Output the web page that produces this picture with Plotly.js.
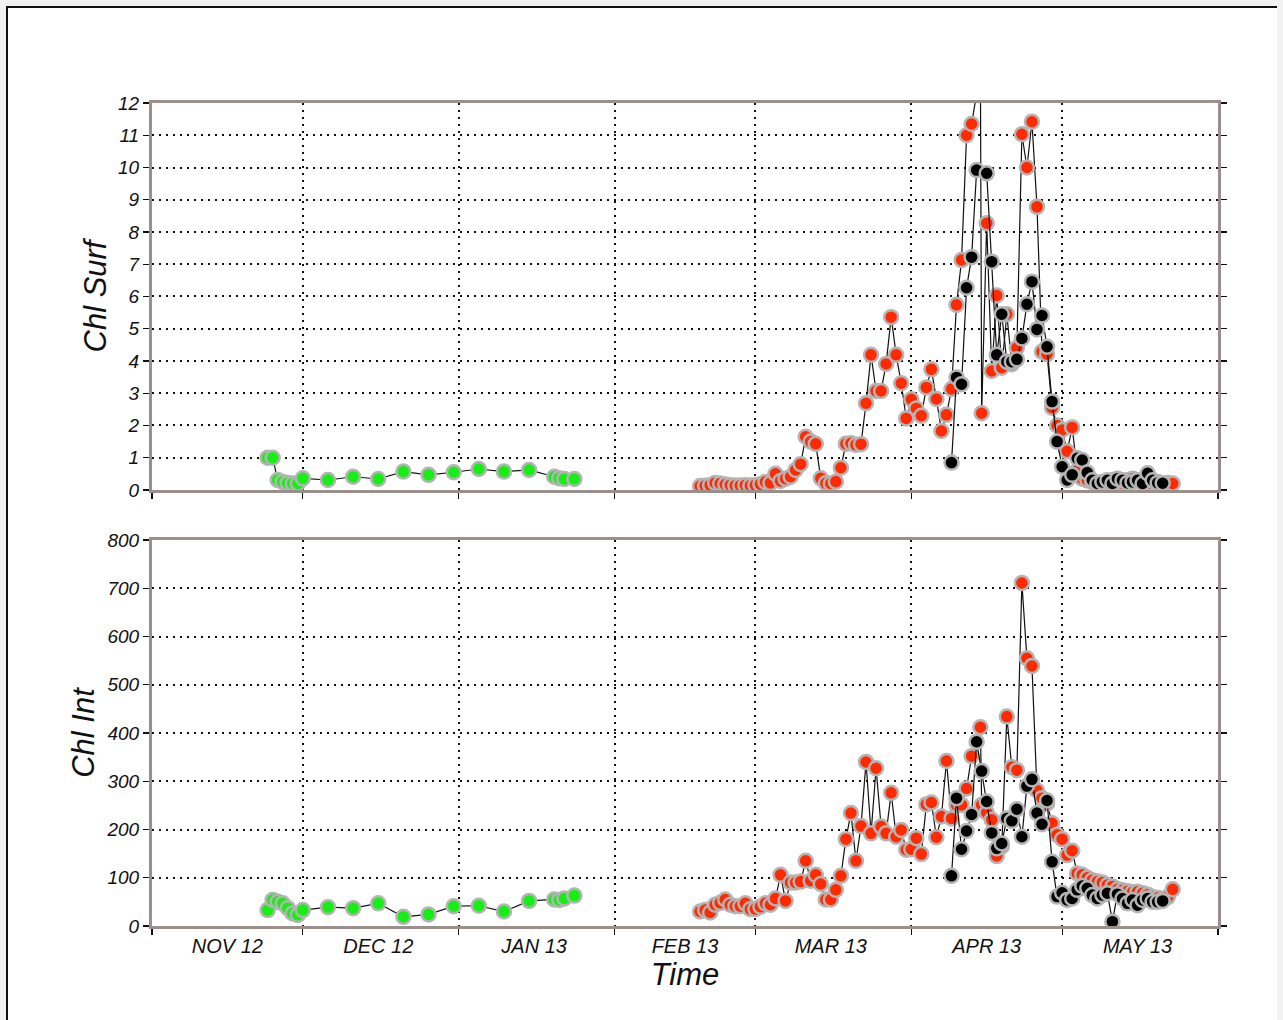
<!DOCTYPE html>
<html>
<head>
<meta charset="utf-8">
<script src="https://cdn.plot.ly/plotly-3.0.1.min.js"></script>
<style>
  html, body { margin: 0; padding: 0; background: #f2f2f2; }
  #wrap { position: absolute; left: 0; top: 0; width: 1283px; height: 1020px; overflow: hidden; }
  #frame { position: absolute; left: 6px; top: 6px; width: 1271px; height: 1014px; background: #fff; border-left: 2px solid #111; border-top: 2px solid #111; box-sizing: border-box; }
  #chart { position: absolute; left: 0; top: 0; width: 1283px; height: 1020px; }
</style>
</head>
<body>
<div id="wrap">
  <div id="frame"></div>
  <div id="chart"></div>
</div>
<script>
// ---------- data ----------
const greenDates = ['2012-11-24','2012-11-25','2012-11-26','2012-11-27','2012-11-28','2012-11-29','2012-11-30','2012-12-01',
  '2012-12-06','2012-12-11','2012-12-16','2012-12-21','2012-12-26','2012-12-31','2013-01-05','2013-01-10','2013-01-15',
  '2013-01-20','2013-01-21','2013-01-22','2013-01-24'];
const greenSurf = [1.0,1.0,0.31,0.25,0.22,0.2,0.2,0.36,0.31,0.41,0.34,0.57,0.47,0.55,0.65,0.57,0.62,0.41,0.36,0.34,0.34];
const greenInt = [33,54,50,47,37,26,23,33,39,37,47,19,24,41,42,30,52,55,54,57,63];

const redDates = ['2013-02-18','2013-02-19','2013-02-20','2013-02-21','2013-02-22','2013-02-23','2013-02-24','2013-02-25',
  '2013-02-26','2013-02-27','2013-02-28',
  '2013-03-01','2013-03-02','2013-03-03','2013-03-04','2013-03-05','2013-03-06','2013-03-07','2013-03-08','2013-03-09',
  '2013-03-10','2013-03-11','2013-03-12','2013-03-13','2013-03-14','2013-03-15','2013-03-16','2013-03-17','2013-03-18',
  '2013-03-19','2013-03-20','2013-03-21','2013-03-22','2013-03-23','2013-03-24','2013-03-25','2013-03-26','2013-03-27',
  '2013-03-28','2013-03-29','2013-03-30','2013-03-31',
  '2013-04-01','2013-04-02','2013-04-03','2013-04-04','2013-04-05','2013-04-06','2013-04-07','2013-04-08','2013-04-09',
  '2013-04-10','2013-04-11','2013-04-12','2013-04-13','2013-04-14 18:00','2013-04-15','2013-04-16','2013-04-17','2013-04-18',
  '2013-04-19','2013-04-20','2013-04-21','2013-04-22','2013-04-23','2013-04-24','2013-04-25','2013-04-26','2013-04-27',
  '2013-04-28','2013-04-29','2013-04-30',
  '2013-05-01','2013-05-02','2013-05-03','2013-05-04','2013-05-05','2013-05-06','2013-05-07','2013-05-08','2013-05-09',
  '2013-05-10','2013-05-11','2013-05-12','2013-05-13','2013-05-14','2013-05-15','2013-05-16','2013-05-17','2013-05-18',
  '2013-05-19','2013-05-20','2013-05-21','2013-05-22','2013-05-23'];
const redSurf = [0.12,0.13,0.15,0.22,0.2,0.17,0.15,0.14,0.14,0.15,0.14,
  0.15,0.18,0.25,0.22,0.5,0.28,0.35,0.41,0.62,0.80,1.65,1.5,1.43,0.36,0.21,0.2,0.26,0.69,
  1.43,1.45,1.40,1.42,2.69,4.19,3.07,3.07,3.91,5.36,4.19,3.31,2.22,
  2.81,2.53,2.30,3.18,3.74,2.82,1.83,2.33,3.13,5.74,7.13,11.0,11.35,13.0,2.38,8.27,3.69,6.03,
  3.79,5.45,3.9,4.41,11.03,10.0,11.42,8.78,4.29,4.21,2.55,2.0,
  1.86,1.2,1.94,0.6,0.35,0.3,0.25,0.2,0.2,0.25,0.3,0.25,0.2,0.3,0.35,0.3,0.25,0.2,0.3,0.25,0.2,0.22,0.2];
const redInt = [30,33,28,44,48,55,44,41,41,47,35,
  35,40,47,44,57,106,52,90,90,92,135,94,106,87,55,55,75,104,
  180,234,135,207,340,192,327,206,192,276,185,199,158,
  159,182,149,252,256,184,227,342,223,251,251,285,352,412,251,235,220,145,
  165,434,329,323,711,555,539,281,265,254,213,189,
  180,147,156,109,106,100,95,92,90,85,82,76,74,72,70,71,68,65,60,58,55,60,76];

const blackDates = ['2013-04-09','2013-04-10','2013-04-11','2013-04-12','2013-04-13','2013-04-14','2013-04-15','2013-04-16',
  '2013-04-17','2013-04-18','2013-04-19','2013-04-20','2013-04-21','2013-04-22','2013-04-23','2013-04-24','2013-04-25',
  '2013-04-26','2013-04-27','2013-04-28','2013-04-29','2013-04-30',
  '2013-05-01','2013-05-02','2013-05-03','2013-05-04','2013-05-05','2013-05-06','2013-05-07','2013-05-08','2013-05-09',
  '2013-05-10','2013-05-11','2013-05-12','2013-05-13','2013-05-14','2013-05-15','2013-05-16','2013-05-17','2013-05-18',
  '2013-05-19','2013-05-20','2013-05-21'];
const blackSurf = [0.85,3.49,3.28,6.27,7.22,9.92,null,9.82,7.08,4.19,5.45,3.98,3.98,4.05,4.70,5.76,6.46,4.98,5.41,4.44,2.74,1.50,
  0.72,0.31,0.47,0.98,0.93,0.54,0.3,0.2,0.25,0.3,0.2,0.35,0.3,0.22,0.25,0.3,0.2,0.52,0.3,0.22,0.21];
const blackInt = [104,265,159,197,231,382,321,258,193,161,171,223,218,242,185,290,304,234,211,260,133,61,
  69,54,57,75,83,78,64,57,64,68,9,66,57,47,54,43,54,57,50,50,52];

const monthLabelDates = ['2012-11-16','2012-12-16','2013-01-16','2013-02-15','2013-03-16','2013-04-16','2013-05-16'];
const monthLabels = ['NOV 12','DEC 12','JAN 13','FEB 13','MAR 13','APR 13','MAY 13'];

// ---------- styling ----------
const FONT = 'Liberation Sans, Arial, sans-serif';
const frameColor = '#9b8f8b';
const gridDash = '2px,5px';
const markerBase = {size: 14, line: {color: '#b4b4b4', width: 2.5}};

function series(x, y, color, xa, ya) {
  return {
    type: 'scatter', mode: 'lines+markers', x: x, y: y, xaxis: xa, yaxis: ya,
    connectgaps: true, cliponaxis: true,
    line: {color: '#111', width: 1.2},
    marker: Object.assign({color: color}, markerBase),
    showlegend: false, hoverinfo: 'x+y'
  };
}

const data = [
  series(greenDates, greenSurf, '#16ee16', 'x', 'y'),
  series(redDates, redSurf, '#ff2a00', 'x', 'y'),
  series(blackDates, blackSurf, '#000000', 'x', 'y'),
  series(greenDates, greenInt, '#16ee16', 'x2', 'y2'),
  series(redDates, redInt, '#ff2a00', 'x2', 'y2'),
  series(blackDates, blackInt, '#000000', 'x2', 'y2')
];

function xAxis(showLabels, anchor) {
  return {
    type: 'date', range: ['2012-11-01', '2013-06-01'], anchor: anchor,
    tickmode: 'array', tickvals: monthLabelDates, ticktext: showLabels ? monthLabels : monthLabels.map(() => ''),
    ticks: '', showgrid: false, zeroline: false,
    showline: true, linecolor: frameColor, linewidth: 3, mirror: true,
    tickfont: {family: FONT, size: 20, color: '#111', style: 'italic'},
    minor: {tickmode: 'linear', tick0: '2012-11-01', dtick: 'M1', ticks: 'outside', ticklen: 6, tickcolor: '#111', tickwidth: 1.2,
            showgrid: true, gridcolor: '#111', gridwidth: 2, griddash: gridDash},
    fixedrange: true
  };
}
function yAxis(range, dtick, domain, anchor, title) {
  return {
    range: range, dtick: dtick, domain: domain, anchor: anchor,
    ticks: 'outside', ticklen: 6, tickcolor: '#111', tickwidth: 1.2,
    showline: true, linecolor: frameColor, linewidth: 3, mirror: 'ticks',
    showgrid: true, gridcolor: '#111', gridwidth: 2, griddash: gridDash,
    zeroline: false,
    tickfont: {family: FONT, size: 19, color: '#111', style: 'italic'},
    title: {text: title, font: {family: FONT, size: 31, color: '#111', style: 'italic'}, standoff: 3},
    fixedrange: true
  };
}

const layout = {
  width: 1283, height: 1020,
  margin: {l: 152, r: 65, t: 103, b: 94},
  paper_bgcolor: 'rgba(0,0,0,0)', plot_bgcolor: '#ffffff',
  font: {family: FONT, color: '#111'},
  xaxis: xAxis(false, 'y'),
  yaxis: yAxis([0, 12], 1, [0.5298, 1], 'x', 'Chl Surf'),
  xaxis2: Object.assign(xAxis(true, 'y2'), {
    title: {text: 'Time', font: {family: FONT, size: 31, color: '#111', style: 'italic'}, standoff: 4}
  }),
  yaxis2: yAxis([0, 800], 100, [0, 0.469], 'x2', 'Chl Int'),
  showlegend: false
};

Plotly.newPlot('chart', data, layout, {displayModeBar: false, staticPlot: true});
</script>
</body>
</html>
